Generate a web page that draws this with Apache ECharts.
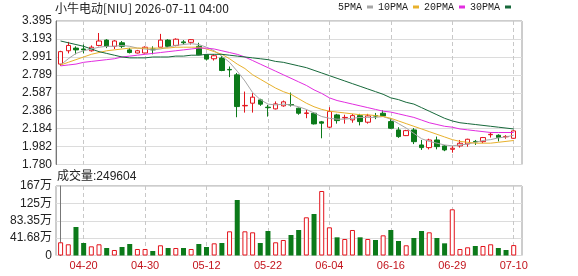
<!DOCTYPE html>
<html><head><meta charset="utf-8">
<script src="https://cdn.jsdelivr.net/npm/echarts@6/dist/echarts.min.js"></script>
<style>html,body{margin:0;padding:0;background:#fff}#c{width:578px;height:276px}</style>
</head><body><div id="c"></div>
<script>
const dates = ['04-15','04-16','04-17','04-20','04-21','04-22','04-23','04-24','04-27','04-28',
 '04-29','04-30','05-01','05-04','05-05','05-06','05-07','05-08','05-11','05-12',
 '05-13','05-14','05-15','05-18','05-19','05-20','05-21','05-22','05-26','05-27',
 '05-28','05-29','06-01','06-02','06-03','06-04','06-05','06-08','06-09','06-10',
 '06-11','06-12','06-15','06-16','06-17','06-18','06-22','06-23','06-24','06-25',
 '06-26','06-29','06-30','07-01','07-02','07-06','07-07','07-08','07-09','07-10'];
const opens = [2.91,3.06,3.09,3.08,3.06,3.12,3.18,3.11,3.15,3.07,
 3.035,3.035,3.08,3.10,3.18,3.12,3.16,3.155,3.11,3.015,
 2.97,2.978,2.85,2.789,2.44,2.47,2.507,2.425,2.406,2.44,
 2.455,2.414,2.355,2.357,2.26,2.20,2.338,2.305,2.282,2.33,
 2.256,2.33,2.357,2.263,2.169,2.105,2.169,2.00,1.97,2.056,
 1.989,1.951,1.989,2.011,2.04,2.037,2.115,2.109,2.092,2.075];
const closes = [3.05,3.12,3.07,3.07,3.10,3.17,3.11,3.17,3.11,3.04,
 3.06,3.10,3.07,3.18,3.11,3.19,3.15,3.185,3.015,2.966,
 3.004,2.838,2.845,2.432,2.445,2.538,2.459,2.42,2.462,2.485,
 2.45,2.357,2.36,2.237,2.245,2.376,2.274,2.31,2.33,2.263,
 2.327,2.325,2.327,2.188,2.094,2.161,2.037,1.97,2.056,1.981,
 1.944,1.963,2.019,2.064,2.035,2.083,2.12,2.083,2.096,2.158];
const lows = [2.89,3.03,3.02,3.03,3.05,3.11,3.09,3.08,3.09,3.03,
 3.03,3.03,3.02,3.10,3.10,3.11,3.13,3.13,3.01,2.95,
 2.95,2.83,2.763,2.312,2.364,2.364,2.44,2.319,2.40,2.43,
 2.432,2.34,2.301,2.23,2.075,2.19,2.24,2.24,2.25,2.22,
 2.24,2.29,2.32,2.18,2.08,2.10,2.01,1.944,1.95,1.951,
 1.93,1.913,1.97,1.98,2.0,2.02,2.083,2.04,2.07,2.07];
const highs = [3.06,3.16,3.11,3.13,3.12,3.26,3.19,3.18,3.17,3.09,
 3.07,3.11,3.11,3.25,3.19,3.20,3.18,3.19,3.15,3.02,
 3.02,3.00,2.883,2.81,2.601,2.583,2.52,2.451,2.49,2.50,
 2.59,2.42,2.395,2.37,2.27,2.425,2.35,2.34,2.35,2.35,
 2.35,2.36,2.39,2.30,2.20,2.17,2.19,2.056,2.07,2.094,
 2.0,1.99,2.056,2.07,2.056,2.09,2.143,2.12,2.11,2.165];
const volumes = [317000,269000,684000,300000,220000,269000,180000,132000,204000,276000,
 156000,156000,108000,245000,180000,180000,180000,156000,276000,204000,
 292000,300000,580000,1331000,580000,556000,300000,588000,317000,372000,
 492000,612000,916000,995000,1547000,676000,436000,396000,612000,436000,
 396000,372000,484000,612000,348000,245000,420000,588000,556000,420000,
 292000,1108000,156000,197000,228000,228000,269000,180000,132000,249604];
const volUp = [1,1,0,0,1,1,0,1,0,0, 1,1,0,1,0,1,0,1,0,0, 1,0,1,0,1,1,0,0,1,1,
 0,0,1,0,1,1,0,1,1,0, 1,0,1,0,0,1,0,0,1,0, 0,1,1,1,0,1,1,0,0,1];
const ma5 = [2.90,2.97,3.03,3.06,3.08,3.10,3.11,3.11,3.12,3.11,
 3.09,3.08,3.07,3.08,3.10,3.12,3.13,3.14,3.13,3.10,
 3.06,3.00,2.93,2.83,2.72,2.59,2.51,2.46,2.45,2.46,
 2.45,2.43,2.40,2.36,2.32,2.30,2.29,2.29,2.30,2.31,
 2.31,2.31,2.32,2.29,2.24,2.19,2.13,2.07,2.04,2.02,
 2.00,1.99,2.00,2.01,2.03,2.05,2.06,2.08,2.09,2.11];
const ma10 = [2.90,2.93,2.96,2.99,3.02,3.04,3.06,3.07,3.08,3.09,
 3.09,3.09,3.09,3.09,3.09,3.10,3.10,3.10,3.10,3.08,
 3.05,3.02,2.97,2.91,2.86,2.79,2.74,2.69,2.64,2.60,
 2.57,2.52,2.47,2.43,2.40,2.38,2.37,2.36,2.35,2.34,
 2.34,2.33,2.32,2.30,2.27,2.24,2.21,2.18,2.15,2.12,
 2.09,2.06,2.04,2.03,2.02,2.02,2.02,2.03,2.04,2.05];
const ma20 = [2.89,2.90,2.91,2.93,2.94,2.95,2.96,2.97,2.99,3.00,
 3.01,3.02,3.03,3.04,3.05,3.06,3.07,3.08,3.09,3.09,
 3.08,3.06,3.04,3.02,2.99,2.95,2.91,2.87,2.83,2.79,
 2.75,2.71,2.67,2.62,2.58,2.53,2.50,2.48,2.46,2.44,
 2.42,2.40,2.38,2.37,2.35,2.33,2.31,2.28,2.25,2.23,
 2.21,2.20,2.18,2.17,2.16,2.15,2.14,2.14,2.14,2.14];
const ma30 = [3.17,3.15,3.13,3.11,3.08,3.05,3.03,3.01,2.99,2.98,
 2.98,2.98,2.99,2.99,2.99,3.00,3.00,3.01,3.01,3.02,
 3.02,3.02,3.01,3.00,2.99,2.98,2.97,2.96,2.94,2.93,
 2.91,2.89,2.87,2.84,2.81,2.78,2.75,2.72,2.69,2.66,
 2.63,2.60,2.57,2.53,2.51,2.48,2.46,2.42,2.38,2.34,
 2.30,2.27,2.25,2.24,2.23,2.22,2.21,2.20,2.19,2.18];
const priceTicks = ['1.780','1.982','2.184','2.386','2.587','2.789','2.991','3.193','3.395'];
const volTicks = ['0','41.68万','83.35万','125万','167万'];
const xLabelDates = ['04-20','04-30','05-12','05-22','06-04','06-16','06-29','07-10'];
const titleText = '小牛电动[NIU] 2026-07-11 04:00';

const RED = '#e3141c', GREEN = '#0c7a1a';
const priceMin = 1.78, priceMax = 3.395, volMax = 1667000;
const xIdx = xLabelDates.map(d => dates.indexOf(d));
const FONT = '"Noto Sans CJK SC", "DejaVu Sans", sans-serif';
const NUMFONT = '"Liberation Sans", "Noto Sans CJK SC", sans-serif';

const candleData = dates.map((d, i) => [i, opens[i], closes[i], lows[i], highs[i]]);
const volData = dates.map((d, i) => ({
  value: [i, volumes[i]],
  itemStyle: volUp[i] ? {color: '#fff', borderColor: RED, borderWidth: 1} : {color: GREEN}
}));
const maLine = (name, arr, color) => ({
  name, type: 'line', xAxisIndex: 0, yAxisIndex: 0,
  data: arr.map((v, i) => [i, v]), showSymbol: false, symbol: 'none',
  lineStyle: {width: 1, color}, itemStyle: {color}, z: 3, animation: false
});

const xCommon = {
  type: 'value', min: -0.6, max: 60.08,
  axisLine: {show: false},
  axisTick: {show: false, customValues: xIdx},
  splitLine: {show: true, lineStyle: {color: '#c8c8c8', type: [4, 3], width: 1}}
};

const chart = echarts.init(document.getElementById('c'), null, {renderer: 'canvas'});
chart.setOption({
  animation: false,
  backgroundColor: '#fff',
  title: [
    {text: titleText, left: 55, top: 2, padding: 0, textStyle: {fontSize: 12, fontWeight: 'normal', color: '#222', fontFamily: FONT}},
    {text: '成交量:' + volumes[volumes.length - 1], left: 57, top: 171, padding: 0, textStyle: {fontSize: 12, fontWeight: 'normal', color: '#222', fontFamily: NUMFONT}}
  ],
  legend: {
    right: 67, top: 2, padding: 0, align: 'right', icon: 'rect', itemWidth: 6, itemHeight: 3, itemGap: 5,
    textStyle: {fontSize: 10, color: '#222', fontFamily: '"Liberation Mono", monospace'},
    data: ['5PMA', '10PMA', '20PMA', '30PMA']
  },
  grid: [
    {left: 56, right: 56, top: 21, height: 143.5, show: true, borderColor: '#9a9a9a', borderWidth: 1},
    {left: 56, right: 56, top: 186, height: 69.5, show: true, borderColor: '#9a9a9a', borderWidth: 1}
  ],
  xAxis: [
    Object.assign({gridIndex: 0, axisLabel: {show: false}}, xCommon),
    Object.assign({gridIndex: 1, axisLabel: {show: true, customValues: xIdx, formatter: v => dates[Math.round(v)],
      color: '#c3141c', fontSize: 11, margin: 5, fontFamily: NUMFONT}}, xCommon)
  ],
  yAxis: [
    {type: 'value', gridIndex: 0, position: 'right', min: priceMin, max: priceMax, show: false, splitLine: {show: false}},
    {type: 'value', gridIndex: 0, position: 'left', min: 0, max: priceTicks.length - 1, interval: 1,
      axisLine: {show: true, lineStyle: {color: '#777'}}, axisTick: {show: false},
      axisLabel: {formatter: v => priceTicks[Math.round(v)], color: '#222', fontSize: 12, margin: 4, fontFamily: NUMFONT},
      splitLine: {show: true, lineStyle: {color: '#dcdcdc', width: 1}}},
    {type: 'value', gridIndex: 1, position: 'left', min: 0, max: volMax, interval: volMax / 4,
      axisLine: {show: true, lineStyle: {color: '#777'}}, axisTick: {show: false},
      axisLabel: {formatter: v => volTicks[Math.round(v / (volMax / 4))], color: '#222', fontSize: 12, margin: 4, fontFamily: NUMFONT},
      splitLine: {show: true, lineStyle: {color: '#dcdcdc', width: 1}}}
  ],
  series: [
    {type: 'candlestick', name: 'K', xAxisIndex: 0, yAxisIndex: 0,
      dimensions: ['idx', 'open', 'close', 'lowest', 'highest'],
      encode: {x: 0, y: [1, 2, 3, 4]},
      data: candleData, barWidth: 5,
      itemStyle: {color: '#fff', color0: GREEN, borderColor: RED, borderColor0: GREEN, borderWidth: 1}, z: 2},
    maLine('5PMA', ma5, '#a6a6a6'),
    maLine('10PMA', ma10, '#e8b12c'),
    maLine('20PMA', ma20, '#e22de0'),
    maLine('30PMA', ma30, '#16683a'),
    {type: 'bar', name: 'VOL', xAxisIndex: 1, yAxisIndex: 2, data: volData, barWidth: 5}
  ]
});
</script></body></html>
